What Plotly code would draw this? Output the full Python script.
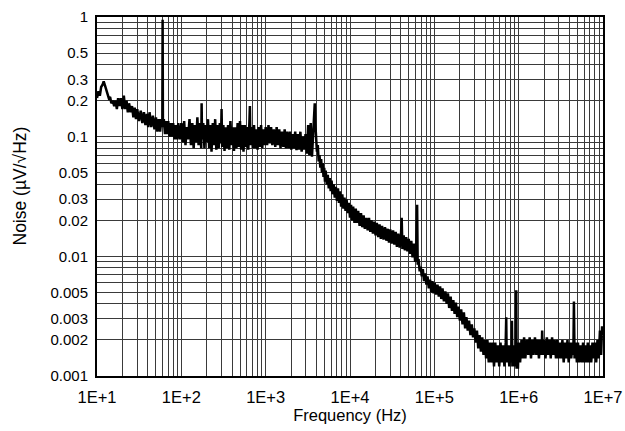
import plotly.graph_objects as go

# ---- data (Hz, uV/sqrt(Hz)) ----
freq_a = [10, 10.4, 10.8, 11.2, 11.6, 12, 12.4, 12.8, 13.3, 13.8,
          14.3, 14.8, 15.4, 16, 16.6, 17.2, 17.8, 18.5, 19.2, 20,
          20.8, 21.6, 22.4, 23.2, 24, 25, 26, 27, 28, 29,
          30, 31.5, 33, 34.5, 36, 37.5, 39, 40.5, 42, 44,
          46, 48, 50, 52, 54, 56, 58, 59.5, 60, 60.5,
          62, 64, 66, 68, 70, 72.5, 75, 77.5, 80, 83,
          86, 89, 92, 96]
noise_a = [0.21, 0.24, 0.22, 0.26, 0.27, 0.29, 0.27, 0.25, 0.23, 0.21,
           0.215, 0.19, 0.20, 0.18, 0.20, 0.17, 0.21, 0.18, 0.21, 0.17,
           0.22, 0.17, 0.20, 0.16, 0.19, 0.16, 0.18, 0.145, 0.175, 0.14,
           0.17, 0.135, 0.165, 0.13, 0.16, 0.125, 0.155, 0.12, 0.16, 0.12,
           0.15, 0.115, 0.145, 0.11, 0.14, 0.11, 0.14, 0.12, 0.95, 0.12,
           0.14, 0.105, 0.135, 0.105, 0.135, 0.10, 0.13, 0.10, 0.13, 0.095,
           0.125, 0.095, 0.13, 0.095]

freq_b = [100, 104, 108, 112, 116, 120, 125, 130, 135, 140,
          145, 150, 155, 160, 166, 172, 174, 176, 182, 188,
          194, 200, 207, 214, 221, 228, 236, 244, 252, 260,
          268, 277, 286, 295, 300, 305, 315, 325, 336, 347,
          358, 370, 382, 395, 408, 421, 435, 450, 465, 480,
          496, 512, 529, 546, 564, 583, 602, 622, 642, 650,
          660, 682, 704, 727, 751, 776, 801, 827, 854, 882,
          911, 941, 970]
noise_b = [0.13, 0.09, 0.135, 0.085, 0.12, 0.095, 0.14, 0.085, 0.13, 0.08,
           0.125, 0.09, 0.145, 0.085, 0.13, 0.08, 0.19, 0.095, 0.13, 0.08,
           0.125, 0.09, 0.14, 0.08, 0.125, 0.075, 0.13, 0.085, 0.14, 0.078,
           0.125, 0.08, 0.13, 0.088, 0.17, 0.082, 0.125, 0.076, 0.12, 0.08,
           0.125, 0.078, 0.135, 0.085, 0.12, 0.076, 0.12, 0.08, 0.13, 0.082,
           0.135, 0.078, 0.125, 0.075, 0.125, 0.082, 0.12, 0.078, 0.135, 0.18,
           0.085, 0.12, 0.08, 0.125, 0.08, 0.115, 0.078, 0.12, 0.082, 0.125,
           0.08, 0.115, 0.085]

freq_c = [1000, 1040, 1080, 1120, 1160, 1200, 1250, 1300, 1350, 1400,
          1450, 1500, 1560, 1620, 1680, 1740, 1800, 1870, 1940, 2010,
          2080, 2160, 2240, 2320, 2400, 2490, 2580, 2670, 2770, 2870,
          2970, 3080, 3190, 3300, 3420, 3540, 3660, 3760, 3820, 3880,
          3950, 4050, 4150, 4250]
noise_c = [0.12, 0.085, 0.125, 0.088, 0.12, 0.085, 0.115, 0.082, 0.12, 0.085,
           0.115, 0.08, 0.11, 0.082, 0.115, 0.08, 0.11, 0.08, 0.11, 0.078,
           0.105, 0.08, 0.11, 0.077, 0.105, 0.078, 0.11, 0.075, 0.10, 0.078,
           0.105, 0.072, 0.125, 0.07, 0.13, 0.068, 0.12, 0.15, 0.19, 0.13,
           0.10, 0.075, 0.085, 0.062]

freq_d = [4350, 4450, 4550, 4650, 4750, 4850, 4950, 5050, 5150, 5300,
          5450, 5600, 5750, 5900, 6050, 6200, 6400, 6600, 6800, 7000,
          7200, 7400, 7600, 7850, 8100, 8350, 8600, 8850, 9100, 9400,
          9700, 10000, 10300, 10600, 10900, 11300, 11700, 12100, 12500, 13000,
          13500, 14000, 14500, 15000, 15600, 16200, 16800, 17400, 18000, 18700,
          19400, 20100, 20800, 21600, 22400, 23200, 24000, 25000, 26000, 27000,
          28000, 29000, 30000, 31200, 32400, 33600, 34800, 36000, 37400, 38800,
          40200, 41000, 41800, 43300, 44800, 46400, 48000, 49700, 51500, 53300,
          55200, 57200, 59200, 61000, 62500, 63500, 65000]
noise_d = [0.07, 0.055, 0.065, 0.05, 0.06, 0.046, 0.055, 0.042, 0.052, 0.04,
           0.048, 0.037, 0.045, 0.035, 0.043, 0.033, 0.04, 0.031, 0.038, 0.029,
           0.037, 0.028, 0.035, 0.026, 0.033, 0.025, 0.031, 0.024, 0.03, 0.023,
           0.028, 0.021, 0.027, 0.02, 0.026, 0.019, 0.025, 0.019, 0.024, 0.018,
           0.023, 0.0175, 0.022, 0.017, 0.021, 0.0165, 0.021, 0.016, 0.02, 0.0155,
           0.0195, 0.015, 0.019, 0.0145, 0.0185, 0.014, 0.018, 0.0138, 0.0175, 0.0135,
           0.017, 0.013, 0.0168, 0.0128, 0.0165, 0.0125, 0.016, 0.012, 0.0155, 0.0118,
           0.015, 0.021, 0.0115, 0.015, 0.0112, 0.0145, 0.011, 0.014, 0.0105, 0.0135,
           0.0098, 0.0128, 0.009, 0.012, 0.027, 0.0085, 0.0095]

freq_e = [67000, 69000, 71000, 73000, 75500, 78000, 80500, 83000, 86000, 89000,
          92000, 95000, 98000, 101000, 105000, 109000, 113000, 117000, 121000, 125000,
          130000, 135000, 140000, 145000, 150000, 156000, 162000, 168000, 174000, 180000,
          187000, 194000, 201000, 208000, 216000, 224000, 232000, 240000, 249000, 258000,
          268000, 278000, 288000, 298000, 309000, 320000, 332000, 344000, 357000, 370000,
          383000, 397000, 411000, 426000, 442000, 458000, 475000, 492000, 510000, 528000,
          547000, 567000, 588000, 609000, 631000, 654000, 678000, 702000, 712000, 722000,
          748000, 775000, 803000, 822000, 832000, 842000, 872000, 903000, 925000, 937000,
          945000, 960000, 980000]
noise_e = [0.0075, 0.0082, 0.0068, 0.0078, 0.0062, 0.0072, 0.0058, 0.0068, 0.0054, 0.0064,
           0.005, 0.0062, 0.0049, 0.006, 0.0048, 0.0058, 0.0046, 0.0056, 0.0044, 0.0054,
           0.0042, 0.0051, 0.004, 0.0049, 0.0037, 0.0046, 0.0035, 0.0043, 0.0033, 0.0041,
           0.0031, 0.0038, 0.0029, 0.0036, 0.0027, 0.0034, 0.0025, 0.0031, 0.0024, 0.0029,
           0.0022, 0.0027, 0.0021, 0.0025, 0.0019, 0.0024, 0.0017, 0.0022, 0.0016, 0.0021,
           0.0015, 0.002, 0.0014, 0.002, 0.0013, 0.0019, 0.0013, 0.0019, 0.0012, 0.0019,
           0.0013, 0.0018, 0.0012, 0.0019, 0.0013, 0.0018, 0.0012, 0.0019, 0.0031, 0.0013,
           0.0018, 0.0012, 0.0018, 0.0013, 0.0029, 0.0012, 0.0018, 0.0012, 0.0018, 0.0052,
           0.00115, 0.0017, 0.00115]

freq_f = [1.00e6, 1.04e6, 1.08e6, 1.12e6, 1.16e6, 1.20e6, 1.25e6, 1.30e6, 1.35e6, 1.40e6,
          1.45e6, 1.50e6, 1.56e6, 1.62e6, 1.68e6, 1.74e6, 1.80e6, 1.87e6, 1.90e6, 1.93e6,
          2.00e6, 2.08e6, 2.16e6, 2.24e6, 2.32e6, 2.40e6, 2.49e6, 2.58e6, 2.67e6, 2.77e6,
          2.87e6, 2.97e6, 3.08e6, 3.19e6, 3.30e6, 3.42e6, 3.54e6, 3.66e6, 3.79e6, 3.92e6,
          4.06e6, 4.20e6, 4.35e6, 4.45e6, 4.52e6, 4.60e6, 4.75e6, 4.90e6, 5.05e6, 5.20e6,
          5.40e6, 5.60e6, 5.80e6, 6.00e6, 6.20e6, 6.40e6, 6.60e6, 6.80e6, 7.00e6, 7.25e6,
          7.50e6, 7.75e6, 8.00e6, 8.30e6, 8.60e6, 8.90e6, 9.20e6, 9.50e6, 9.75e6, 10.0e6]
noise_f = [0.0019, 0.0013, 0.002, 0.0014, 0.0021, 0.0014, 0.002, 0.0015, 0.0021, 0.0014,
           0.002, 0.0015, 0.0021, 0.0015, 0.002, 0.0014, 0.002, 0.0015, 0.0024, 0.0015,
           0.002, 0.0014, 0.0021, 0.0015, 0.002, 0.0014, 0.0021, 0.0015, 0.002, 0.0014,
           0.002, 0.0014, 0.0019, 0.0014, 0.002, 0.0013, 0.0019, 0.0014, 0.002, 0.0013,
           0.0019, 0.0014, 0.0019, 0.0015, 0.0042, 0.0014, 0.0019, 0.0013, 0.0019, 0.0013,
           0.0018, 0.0013, 0.0019, 0.0013, 0.0018, 0.0013, 0.0019, 0.0013, 0.0018, 0.0013,
           0.0019, 0.0014, 0.0019, 0.0013, 0.002, 0.0014, 0.0024, 0.0015, 0.0026, 0.0022]

freq_hz = freq_a + freq_b + freq_c + freq_d + freq_e + freq_f
noise_uv = noise_a + noise_b + noise_c + noise_d + noise_e + noise_f
assert len(freq_hz) == len(noise_uv)

x_tick_vals = [10, 100, 1000, 10000, 100000, 1000000, 10000000]
x_tick_text = ["1E+1", "1E+2", "1E+3", "1E+4", "1E+5", "1E+6", "1E+7"]
y_label_vals = [0.001, 0.002, 0.003, 0.005, 0.01, 0.02, 0.03, 0.05, 0.1, 0.2, 0.3, 0.5, 1]
y_label_text = ["0.001", "0.002", "0.003", "0.005", "0.01", "0.02", "0.03", "0.05",
                "0.1", "0.2", "0.3", "0.5", "1"]
mantissas = [1, 2, 3, 4, 5, 6, 7, 8, 9]

x_grid = [m * d for d in [10, 100, 1000, 10000, 100000, 1000000] for m in mantissas] + [10000000]
y_grid = [round(m * d, 6) for d in [0.001, 0.01, 0.1] for m in mantissas] + [1]


def labels(grid, vals, texts):
    out = []
    for g in grid:
        hit = ""
        for v, t in zip(vals, texts):
            if abs(g - v) / v < 1e-6:
                hit = t
        out.append(hit)
    return out


fig = go.Figure()
fig.add_trace(go.Scatter(x=freq_hz, y=noise_uv, mode="lines",
                         line=dict(color="black", width=2.5), showlegend=False))

fam = "Liberation Sans, Arial, sans-serif"
fig.update_layout(
    width=625, height=431,
    margin=dict(l=97, r=22, t=17, b=55),
    paper_bgcolor="white", plot_bgcolor="white",
    font=dict(family=fam, size=15, color="black"),
)
fig.update_xaxes(
    type="log", range=[1, 7], automargin=False,
    tickmode="array", tickvals=x_grid,
    ticktext=labels(x_grid, x_tick_vals, x_tick_text),
    showgrid=True, gridcolor="#3a3a3a", gridwidth=1,
    showline=True, linecolor="black", linewidth=2, mirror=True,
    ticks="", tickfont=dict(size=16.5), ticklabelstandoff=5,
    title=dict(text="Frequency (Hz)", font=dict(size=16.5), standoff=2),
    zeroline=False,
)
fig.update_yaxes(
    type="log", range=[-3, 0], automargin=False,
    tickmode="array", tickvals=y_grid,
    ticktext=labels(y_grid, y_label_vals, y_label_text),
    showgrid=True, gridcolor="#3a3a3a", gridwidth=1,
    showline=True, linecolor="black", linewidth=2, mirror=True,
    ticks="", tickfont=dict(size=15), ticklabelstandoff=4,
    zeroline=False,
)
fig.add_annotation(
    text="Noise (µV/√Hz)", textangle=-90, showarrow=False,
    xref="paper", yref="paper", x=0, y=0.5, xanchor="center", yanchor="middle",
    xshift=-78, yshift=10, font=dict(family=fam, size=17.5, color="black"),
)
fig.write_html("out.html")
